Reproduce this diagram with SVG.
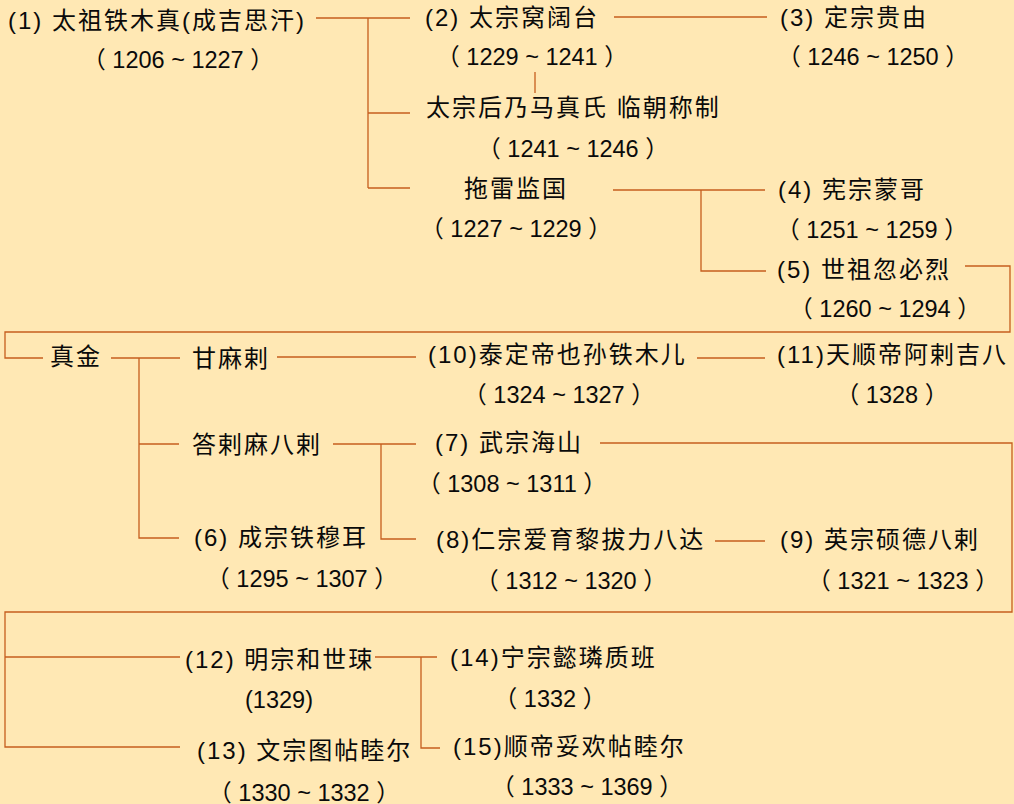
<svg xmlns="http://www.w3.org/2000/svg" width="1014" height="804" viewBox="0 0 1014 804" xml:space="preserve">
<style>
.n{font-family:"Liberation Sans","Noto Sans CJK SC",sans-serif;font-size:24px;letter-spacing:2px;fill:#0a0a0a;white-space:pre}
.y{font-family:"Liberation Sans","Noto Sans CJK SC",sans-serif;font-size:23.5px;fill:#0a0a0a;text-anchor:middle;white-space:pre}
.c path{fill:none;stroke:#C65E1E;stroke-width:1.3}
</style>
<rect width="1014" height="804" fill="#FFE8B4"/>
<g class="c" id="connectors">
<path d="M316,18H410M368,18V188M368,113H410M368,188H410"/>
<path d="M614,17H767"/>
<path d="M535,72V93"/>
<path d="M613,190H765M701,190V271H766"/>
<path d="M965,266H1010V332H5V358H43"/>
<path d="M111,358H180M139,358V538H179M139,444H179"/>
<path d="M277,357H416"/>
<path d="M697,358H765"/>
<path d="M333,444H416M381,444V539H416"/>
<path d="M600,443H1012V612H5V747H180M5,657H180"/>
<path d="M715,541H765"/>
<path d="M375,657H437M421,657V748H440"/>
</g>
<g id="n1"><text class="n" x="8" y="29">(1) 太祖铁木真(成吉思汗)</text><text class="y" x="178" y="68">（ 1206 ~ 1227 ）</text></g>
<g id="n2"><text class="n" x="425" y="26">(2) 太宗窝阔台</text><text class="y" x="532" y="65">（ 1229 ~ 1241 ）</text></g>
<g id="n3"><text class="n" x="780" y="26">(3) 定宗贵由</text><text class="y" x="873" y="65">（ 1246 ~ 1250 ）</text></g>
<g id="regent1"><text class="n" x="426" y="116">太宗后乃马真氏 临朝称制</text><text class="y" x="573" y="157">（ 1241 ~ 1246 ）</text></g>
<g id="regent2"><text class="n" x="464" y="197">拖雷监国</text><text class="y" x="516" y="237">（ 1227 ~ 1229 ）</text></g>
<g id="n4"><text class="n" x="778" y="198">(4) 宪宗蒙哥</text><text class="y" x="872" y="238">（ 1251 ~ 1259 ）</text></g>
<g id="n5"><text class="n" x="777" y="278">(5) 世祖忽必烈</text><text class="y" x="885" y="317">（ 1260 ~ 1294 ）</text></g>
<g id="zhenjin"><text class="n" x="50" y="365">真金</text></g>
<g id="ganmala"><text class="n" x="192" y="367">甘麻剌</text></g>
<g id="dalamabala"><text class="n" x="192" y="453">答剌麻八剌</text></g>
<g id="n6"><text class="n" x="194" y="546">(6) 成宗铁穆耳</text><text class="y" x="302" y="587">（ 1295 ~ 1307 ）</text></g>
<g id="n10"><text class="n" x="428" y="363">(10)泰定帝也孙铁木儿</text><text class="y" x="559" y="403">（ 1324 ~ 1327 ）</text></g>
<g id="n11"><text class="n" x="777" y="363">(11)天顺帝阿剌吉八</text><text class="y" x="892" y="403">（ 1328 ）</text></g>
<g id="n7"><text class="n" x="435" y="451">(7) 武宗海山</text><text class="y" x="512" y="492">（ 1308 ~ 1311 ）</text></g>
<g id="n8"><text class="n" x="436" y="548">(8)仁宗爱育黎拔力八达</text><text class="y" x="571" y="589">（ 1312 ~ 1320 ）</text></g>
<g id="n9"><text class="n" x="780" y="548">(9) 英宗硕德八剌</text><text class="y" x="903" y="589">（ 1321 ~ 1323 ）</text></g>
<g id="n12"><text class="n" x="185" y="668">(12) 明宗和世㻋</text><text class="y" x="279" y="708">(1329)</text></g>
<g id="n13"><text class="n" x="197" y="759">(13) 文宗图帖睦尔</text><text class="y" x="304" y="801">（ 1330 ~ 1332 ）</text></g>
<g id="n14"><text class="n" x="450" y="666">(14)宁宗懿璘质班</text><text class="y" x="550" y="707">（ 1332 ）</text></g>
<g id="n15"><text class="n" x="453" y="755">(15)顺帝妥欢帖睦尔</text><text class="y" x="587" y="795">（ 1333 ~ 1369 ）</text></g>
</svg>
